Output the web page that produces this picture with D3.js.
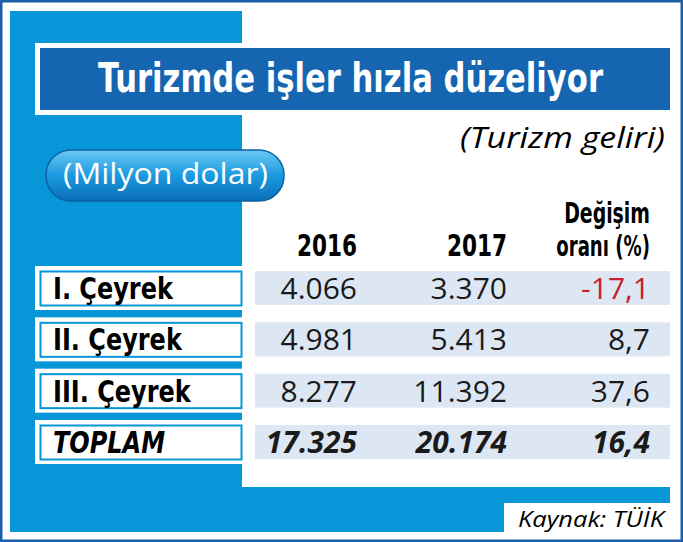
<!DOCTYPE html><html><head><meta charset="utf-8"><script src="https://cdn.jsdelivr.net/npm/d3@7"></script>
<style>body{margin:0;background:#fff}</style></head><body><svg id="c" width="683" height="542"></svg>
<script>
const title = "Turizmde işler hızla düzeliyor";
const subtitle = "(Turizm geliri)";
const unit = "(Milyon dolar)";
const source = "Kaynak: TÜİK";
const categories = ["I. Çeyrek","II. Çeyrek","III. Çeyrek","TOPLAM"];
const columns = ["2016","2017","Değişim oranı (%)"];
const v2016 = ["4.066","4.981","8.277","17.325"];
const v2017 = ["3.370","5.413","11.392","20.174"];
const change = ["-17,1","8,7","37,6","16,4"];

const svg = d3.select("#c");
const cond = "'DejaVu Sans Condensed','Liberation Sans Narrow',sans-serif";
const sans = "'Open Sans','Noto Sans',sans-serif";
const cyan="#0796d8", dark="#1565b0";
// condensed text helper: anchored text scaled horizontally
function ctext(x,y,t,anchor,size,sx,extra){
  const e=svg.append("text").attr("transform",`translate(${x},${y}) scale(${sx},1)`).attr("text-anchor",anchor)
    .attr("font-family",cond).attr("font-weight","bold").attr("font-size",size).text(t);
  if(extra) extra(e); return e;
}
svg.append("rect").attr("x",1).attr("y",1).attr("width",681).attr("height",540).attr("fill","#fff").attr("stroke","#1a5fa8").attr("stroke-width",3);
svg.append("rect").attr("x",10).attr("y",11).attr("width",232).attr("height",521).attr("fill",cyan);
svg.append("rect").attr("x",10).attr("y",487).attr("width",660).attr("height",45).attr("fill",cyan);
svg.append("rect").attr("x",504).attr("y",503).attr("width",170).attr("height",30).attr("fill","#fff");
svg.append("text").attr("x",664).attr("y",527).attr("text-anchor","end").attr("font-family",sans).attr("font-style","italic").attr("font-size",22).attr("textLength",146).attr("lengthAdjust","spacingAndGlyphs").text(source);
// title
svg.append("rect").attr("x",35).attr("y",43).attr("width",637).attr("height",72).attr("fill","#fff");
svg.append("rect").attr("x",40).attr("y",48).attr("width",630).attr("height",62).attr("fill",dark);
svg.append("text").attr("x",98).attr("y",92).attr("font-family",cond).attr("font-weight","bold").attr("font-size",40).attr("fill","#fff").attr("textLength",505).attr("lengthAdjust","spacingAndGlyphs").text(title);
svg.append("text").attr("x",460).attr("y",148).attr("font-family",sans).attr("font-style","italic").attr("font-size",30).attr("textLength",205).attr("lengthAdjust","spacingAndGlyphs").text(subtitle);
// pill
const g=svg.append("defs").append("linearGradient").attr("id","pg").attr("x1",0).attr("y1",0).attr("x2",0).attr("y2",1);
g.append("stop").attr("offset",0).attr("stop-color","#6cc8f4");
g.append("stop").attr("offset",0.5).attr("stop-color","#1a9ae0");
g.append("stop").attr("offset",1).attr("stop-color","#0a6db8");
svg.append("rect").attr("x",46).attr("y",150).attr("width",238).attr("height",51).attr("rx",25).attr("fill","url(#pg)").attr("stroke","#0b5fa5").attr("stroke-width",1.5);
svg.append("text").attr("x",63).attr("y",184).attr("font-family",sans).attr("font-size",29).attr("fill","#fff").attr("textLength",205).attr("lengthAdjust","spacingAndGlyphs").text(unit);
// headers
const xr=[357,507,650];
ctext(xr[0],256,columns[0],"end",30,0.8);
ctext(xr[1],256,columns[1],"end",30,0.8);
const parts=columns[2].split(" ");
ctext(xr[2],223,parts[0],"end",28,0.75);
ctext(xr[2],256,parts.slice(1).join(" "),"end",28,0.72);
// rows
const y=d3.scalePoint().domain(categories).range([288,442]);
categories.forEach((c,i)=>{
  const yc=y(c), last=i===3;
  svg.append("rect").attr("x",255).attr("y",yc-17).attr("width",415).attr("height",34).attr("fill","#dde7f4");
  svg.append("rect").attr("x",35).attr("y",yc-22).attr("width",207).attr("height",44).attr("fill","#fff");
  svg.append("rect").attr("x",40.5).attr("y",yc-16.5).attr("width",201).attr("height",34).attr("fill","#fff").attr("stroke",cyan).attr("stroke-width",2);
  ctext(53,yc+11,c,"start",31,0.86,e=>e.attr("font-style",last?"italic":"normal"));
  [v2016[i],v2017[i],change[i]].forEach((v,j)=>{
    svg.append("text").attr("x",xr[j]).attr("y",yc+11).attr("text-anchor","end").attr("font-family",sans)
      .attr("font-weight",last?"bold":"normal").attr("font-style",last?"italic":"normal").attr("font-size",30)
      .attr("fill",v.startsWith("-")?"#c8202f":"#1a1a1a").text(v);
  });
});
</script></body></html>
